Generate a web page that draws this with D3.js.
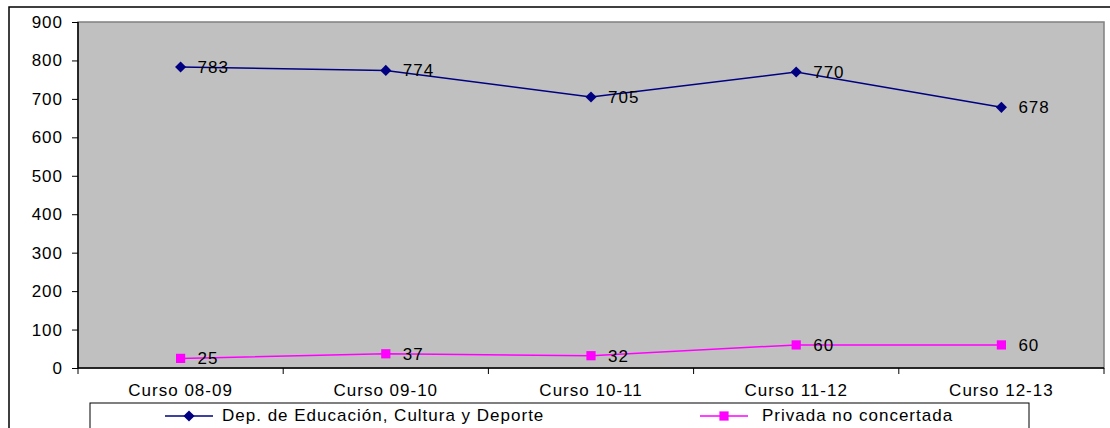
<!DOCTYPE html>
<html>
<head>
<meta charset="utf-8">
<script src="https://cdn.jsdelivr.net/npm/d3@7"></script>
<style>
body { margin: 0; background: #fff; }
svg text { font-family: "Liberation Sans", Arial, sans-serif; fill: #000; font-size: 17px; letter-spacing: 1px; }
</style>
</head>
<body>
<div id="viz"></div>
<script>
var width = 1110
var height = 428

var categories = ["Curso 08-09", "Curso 09-10", "Curso 10-11", "Curso 11-12", "Curso 12-13"];
var publicValues = [783, 774, 705, 770, 678];
var privateValues = [25, 37, 32, 60, 60];
var seriesNames = ["Dep. de Educación, Cultura y Deporte", "Privada no concertada"];
var yTicks = [0, 100, 200, 300, 400, 500, 600, 700, 800, 900];

var plotLeft = 78, plotRight = 1104, plotTop = 22, plotBottom = 368;

var svg = d3.select("#viz")
	.append("svg")
	.attr("width", width)
	.attr("height", height);

// outer chart frame
svg.append("rect")
	.attr("x", 9).attr("y", 7)
	.attr("width", width + 10).attr("height", height + 10)
	.attr("fill", "#fff")
	.attr("stroke", "#000")
	.attr("stroke-width", 1.5);

var x = d3.scaleBand()
	.domain(categories)
	.range([plotLeft, plotRight]);

var y = d3.scaleLinear()
	.domain([0, 900])
	.range([plotBottom, plotTop]);

// plot area
svg.append("rect")
	.attr("x", plotLeft).attr("y", plotTop)
	.attr("width", plotRight - plotLeft).attr("height", plotBottom - plotTop)
	.attr("fill", "#c0c0c0")
	.attr("stroke", "#808080")
	.attr("stroke-width", 1.5);

var yAxis = svg.append("g")
	.attr("transform", "translate(" + plotLeft + ",0)")
	.call(d3.axisLeft(y).tickValues(yTicks).tickSize(6).tickPadding(9));
yAxis.attr("font-size", null).attr("font-family", null);
yAxis.select(".domain").remove();
yAxis.selectAll("line").attr("stroke", "#000");

var xAxis = svg.append("g")
	.attr("transform", "translate(0," + plotBottom + ")")
	.call(d3.axisBottom(x).tickSize(0).tickPadding(16));
xAxis.attr("font-size", null).attr("font-family", null);
xAxis.select(".domain").remove();

// x tick marks at band boundaries
var bounds = categories.map(function(c){ return x(c); }).concat([plotRight]);
svg.selectAll(".xtick")
	.data(bounds)
	.enter()
	.append("line")
	.attr("x1", function(d){ return d; })
	.attr("x2", function(d){ return d; })
	.attr("y1", plotBottom)
	.attr("y2", plotBottom + 6)
	.attr("stroke", "#000");

svg.append("line")
	.attr("x1", plotLeft).attr("x2", plotRight)
	.attr("y1", plotBottom).attr("y2", plotBottom)
	.attr("stroke", "#000").attr("stroke-width", 1.5);
svg.append("line")
	.attr("x1", plotLeft).attr("x2", plotLeft)
	.attr("y1", plotTop).attr("y2", plotBottom)
	.attr("stroke", "#000").attr("stroke-width", 1.5);

function cx(i){ return x(categories[i]) + x.bandwidth() / 2; }

var line = d3.line()
	.x(function(d, i){ return cx(i); })
	.y(function(d){ return y(d); });

var series = [
	{ values: publicValues, color: "#000080", rotate: 45, size: 62 },
	{ values: privateValues, color: "#ff00ff", rotate: 0, size: 85 }
];

series.forEach(function(s){
	svg.append("path")
		.datum(s.values)
		.attr("d", line)
		.attr("fill", "none")
		.attr("stroke", s.color)
		.attr("stroke-width", 1.5);

	svg.selectAll(null)
		.data(s.values)
		.enter()
		.append("path")
		.attr("d", d3.symbol().type(d3.symbolSquare).size(s.size))
		.attr("transform", function(d, i){ return "translate(" + cx(i) + "," + y(d) + ") rotate(" + s.rotate + ")"; })
		.attr("fill", s.color);

	svg.selectAll(null)
		.data(s.values)
		.enter()
		.append("text")
		.text(function(d){ return d; })
		.attr("x", function(d, i){ return cx(i) + 17; })
		.attr("y", function(d){ return y(d) + 6; });
});

// legend
var legend = svg.append("g");
legend.append("rect")
	.attr("x", 90).attr("y", 403)
	.attr("width", 939).attr("height", 40)
	.attr("fill", "#fff")
	.attr("stroke", "#000")
	.attr("stroke-width", 1);

var legendX = [165, 700];
series.forEach(function(s, i){
	var lx = legendX[i];
	legend.append("line")
		.attr("x1", lx).attr("x2", lx + 48)
		.attr("y1", 416).attr("y2", 416)
		.attr("stroke", s.color)
		.attr("stroke-width", 1.5);
	legend.append("path")
		.attr("d", d3.symbol().type(d3.symbolSquare).size(s.size))
		.attr("transform", "translate(" + (lx + 24) + ",416) rotate(" + s.rotate + ")")
		.attr("fill", s.color);
	legend.append("text")
		.text(seriesNames[i])
		.attr("x", lx + (i === 0 ? 57 : 62))
		.attr("y", 421);
});
</script>
</body>
</html>
